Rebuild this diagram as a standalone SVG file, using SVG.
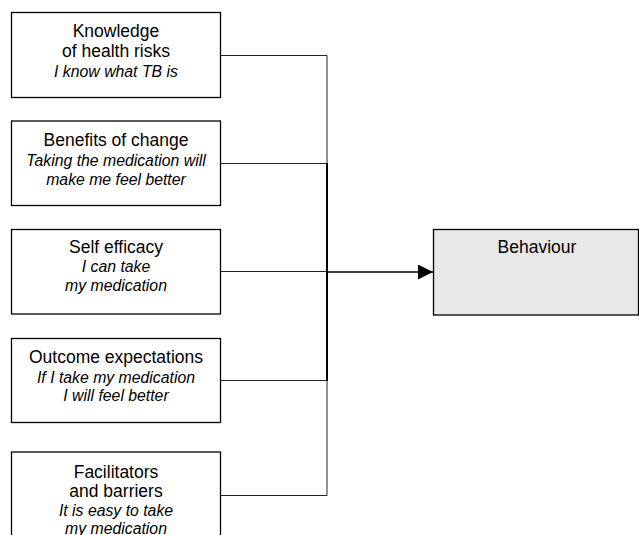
<svg xmlns="http://www.w3.org/2000/svg" width="639" height="535" viewBox="0 0 639 535">
<defs>
<style>
.box{fill:#fff;stroke:#000;stroke-width:1.3}
.t{font-family:"Liberation Sans",Arial,sans-serif;font-size:17.5px;fill:#000;text-anchor:middle}
.i{font-family:"Liberation Sans",Arial,sans-serif;font-size:15.8px;font-style:italic;fill:#000;text-anchor:middle}
.c{fill:none;stroke:#222;stroke-width:1}
.cb{fill:none;stroke:#000;stroke-width:2}
</style>
<marker id="arr" markerWidth="15" markerHeight="15" refX="15" refY="7.5" orient="auto" markerUnits="userSpaceOnUse">
<path d="M0,0 L15,7.5 L0,15 Z" fill="#000"/>
</marker>
</defs>
<rect width="639" height="535" fill="#fff"/>
<g id="connectors">
<path class="c" d="M220.5,55.5 H327 V163"/>
<path class="c" d="M220.5,163.5 H327"/>
<path class="c" d="M220.5,271.5 H327"/>
<path class="c" d="M220.5,380.5 H327"/>
<path class="c" d="M220.5,495.5 H327 V380"/>
<path class="cb" d="M327,163 V381"/>
<path class="cb" d="M327,272 H433" marker-end="url(#arr)" style="stroke-width:1.5"/>
</g>
<g id="n1">
<rect class="box" x="11.5" y="12.5" width="209" height="85"/>
<text class="t" x="116" y="36.5">Knowledge</text>
<text class="t" x="116" y="57">of health risks</text>
<text class="i" x="116" y="77">I know what TB is</text>
</g>
<g id="n2">
<rect class="box" x="11.5" y="121" width="209" height="84.5"/>
<text class="t" x="116" y="146">Benefits of change</text>
<text class="i" x="116" y="166">Taking the medication will</text>
<text class="i" x="116" y="185">make me feel better</text>
</g>
<g id="n3">
<rect class="box" x="11.5" y="229.5" width="209" height="84.5"/>
<text class="t" x="116" y="253">Self efficacy</text>
<text class="i" x="116" y="272">I can take</text>
<text class="i" x="116" y="291">my medication</text>
</g>
<g id="n4">
<rect class="box" x="11.5" y="338.5" width="209" height="84"/>
<text class="t" x="116" y="363">Outcome expectations</text>
<text class="i" x="116" y="382.5">If I take my medication</text>
<text class="i" x="116" y="401">I will feel better</text>
</g>
<g id="n5">
<rect class="box" x="11.5" y="452" width="209" height="90"/>
<text class="t" x="116" y="478">Facilitators</text>
<text class="t" x="116" y="497">and barriers</text>
<text class="i" x="116" y="515.5">It is easy to take</text>
<text class="i" x="116" y="534">my medication</text>
</g>
<g id="behaviour">
<rect x="433.5" y="229.5" width="205" height="85.5" fill="#e8e8e8" stroke="#000" stroke-width="1.3"/>
<text class="t" x="537" y="253">Behaviour</text>
</g>
</svg>
